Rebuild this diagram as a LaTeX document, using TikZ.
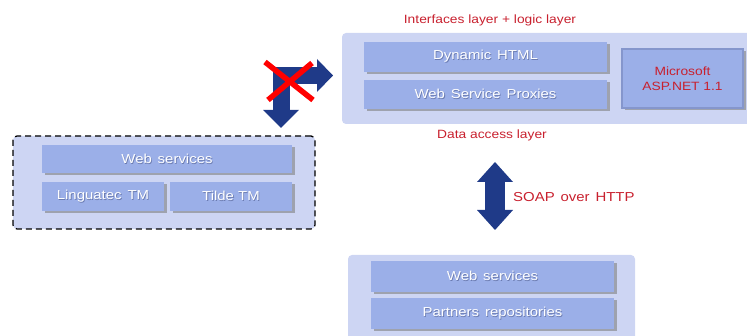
\documentclass[tikz,border=0pt]{standalone}
\usepackage{fontspec}
\setmainfont[FakeStretch=1.15]{Liberation Sans}
\usetikzlibrary{shadows,arrows.meta}
\definecolor{contc}{HTML}{CDD5F3}
\definecolor{boxc}{HTML}{9BAFE8}
\definecolor{arrc}{HTML}{1F3A88}
\definecolor{redt}{HTML}{C8202E}
\definecolor{tsh}{HTML}{6B7BB0}
\definecolor{msb}{HTML}{8596CC}
\newcommand\wgap{\hspace{0.45em}}
\newcommand\shtxt[1]{\leavevmode\rlap{\kern0.8pt\raisebox{-0.8pt}{\textcolor{tsh}{#1}}}\textcolor{white}{#1}}
\begin{document}
\begin{tikzpicture}[x=1pt,y=-1pt,
  container/.style={fill=contc, rounded corners=4pt, inner sep=0pt},
  box/.style={fill=boxc, inner sep=0pt, font=\fontsize{13}{15}\selectfont,
    drop shadow={shadow xshift=2.5pt,shadow yshift=-2.5pt,fill=black!50,opacity=0.6}},
  lbl/.style={text=redt, font=\fontsize{12}{14}\selectfont, inner sep=0pt},
  fat/.style={draw=arrc, line join=miter}
]
\useasboundingbox (0,0) rectangle (747,336);

% top container
\node[container, minimum width=410pt, minimum height=91pt] (topC) at (547,78.5) {};
\node[box, minimum width=243pt, minimum height=30pt] (dyn) at (485.5,57) {\shtxt{Dynamic\wgap HTML}};
\node[box, minimum width=243pt, minimum height=29pt] (wsp) at (485.5,94.5) {\shtxt{Web\wgap Service\wgap Proxies}};
\node[box, draw=msb, line width=1.5pt, minimum width=121pt, minimum height=59pt, align=center, text=redt,
  font=\fontsize{12}{15}\selectfont] (ms) at (682.5,78.5) {Microsoft\\ASP.NET 1.1};
\node[lbl] (title) at (490,20) {Interfaces layer + logic layer};
\node[lbl] (dal) at (492,135) {Data access layer};

% left dashed container
\node[container, draw=black, dash pattern=on 6pt off 4pt, line width=1.3pt, minimum width=302pt, minimum height=93pt] (leftC) at (164,182.5) {};
\node[box, minimum width=250pt, minimum height=28pt] (lws) at (167,159) {\shtxt{Web\wgap services}};
\node[box, minimum width=122pt, minimum height=29pt] (ling) at (103,196.5) {\shtxt{Linguatec\wgap TM}};
\node[box, minimum width=122pt, minimum height=29pt] (tilde) at (231,196.5) {\shtxt{Tilde TM}};

% bottom container
\node[container, minimum width=287pt, minimum height=90pt] (botC) at (491.5,300) {};
\node[box, minimum width=243pt, minimum height=31pt] (bws) at (492.5,276.5) {\shtxt{Web\wgap services}};
\node[box, minimum width=243pt, minimum height=31pt] (prep) at (492.5,313.5) {\shtxt{Partners\wgap repositories}};

% SOAP double arrow
\coordinate (soapT) at (495,162);
\coordinate (soapB) at (495,230);
\draw[fat, line width=20pt,
  {Triangle[length=20pt,width=36pt,line width=0pt]}-{Triangle[length=20pt,width=36pt,line width=0pt]}]
  (soapT) -- (soapB);
\node[lbl, anchor=west, font=\fontsize{13}{15}\selectfont] (soap) at (513,197) {SOAP\wgap over\wgap HTTP};

% bent arrow
\coordinate (bentD) at (281,128);
\coordinate (bentC) at (281,75.5);
\coordinate (bentR) at (333,75.5);
\draw[fat, line width=17pt,
  {Triangle[length=18pt,width=36pt,line width=0pt]}-{Triangle[length=16pt,width=33pt,line width=0pt]}]
  (bentD) -- (bentC) -- (bentR);

% red cross
\coordinate (x1) at (265,62);
\coordinate (x2) at (313,100);
\coordinate (x3) at (312,63);
\coordinate (x4) at (268,100);
\draw[red, line width=5.5pt] (x1) -- (x2) (x3) -- (x4);
\end{tikzpicture}
\end{document}
